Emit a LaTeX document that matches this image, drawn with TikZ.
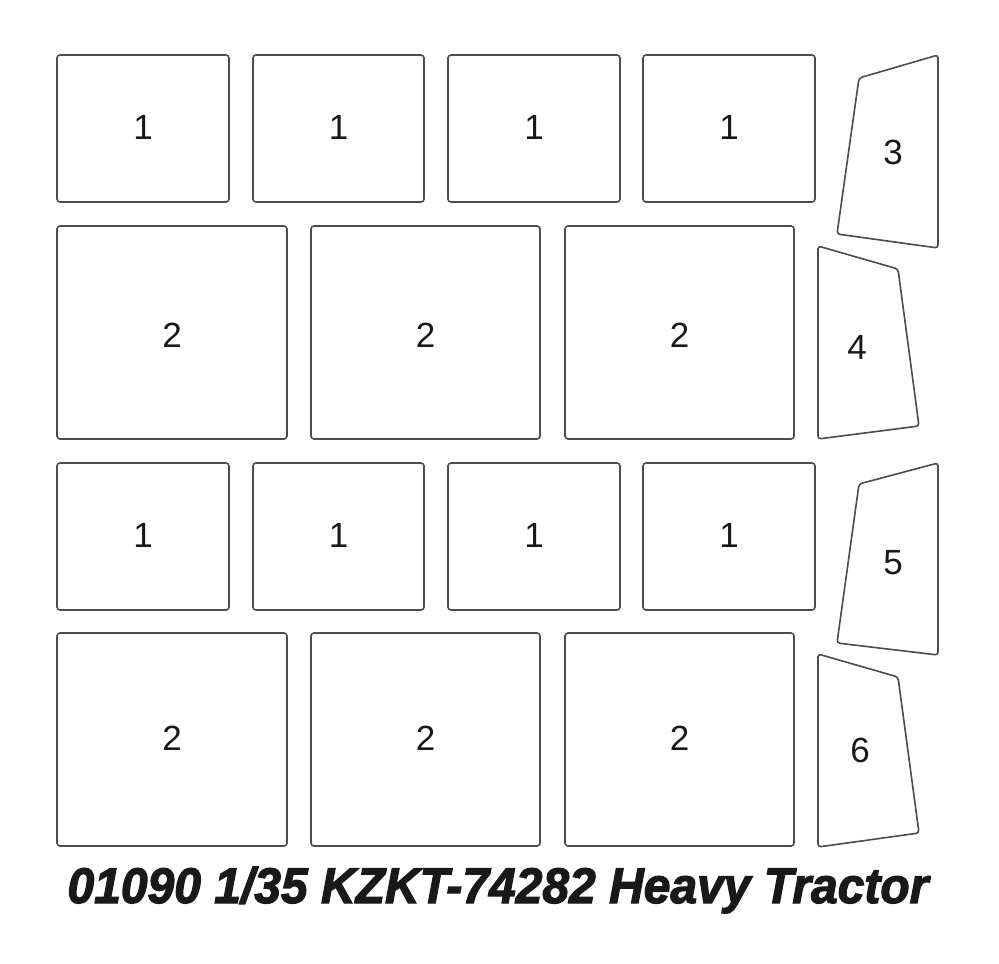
\documentclass[tikz,border=0pt]{standalone}
\usepackage{fontspec}
\setmainfont{Liberation Sans}
\newfontfamily\titlefont[FakeBold=2.5]{Liberation Sans}
\begin{document}
\begin{tikzpicture}[x=1pt,y=-1pt,
  part/.style={draw=black!70,line width=1.6pt,rounded corners=3pt},
  lbl/.style={font=\fontsize{35}{35}\selectfont,text=black!90,inner sep=0pt}]
\useasboundingbox (0,0) rectangle (999,964);
% row 1
\foreach \xa/\xb [count=\i] in {57/229,253/424,448/620,643/815}{
  \draw[part] (\xa,55) rectangle (\xb,202);
  \node[lbl] (ra\i) at ({(\xa+\xb)/2},127) {1};
}
% row 2
\foreach \xa/\xb [count=\i] in {57/287,311/540,565/794}{
  \draw[part] (\xa,226) rectangle (\xb,439);
  \node[lbl] (rb\i) at ({(\xa+\xb)/2},335) {2};
}
% row 3
\foreach \xa/\xb [count=\i] in {57/229,253/424,448/620,643/815}{
  \draw[part] (\xa,463) rectangle (\xb,610);
  \node[lbl] (rc\i) at ({(\xa+\xb)/2},535) {1};
}
% row 4
\foreach \xa/\xb [count=\i] in {57/287,311/540,565/794}{
  \draw[part] (\xa,633) rectangle (\xb,846);
  \node[lbl] (rd\i) at ({(\xa+\xb)/2},738) {2};
}
% trapezoids
\draw[part] (859,78) -- (938,55) -- (938,248) -- (837,234) -- cycle;
\node[lbl] (t3) at (893,152) {3};
\draw[part] (818,246) -- (898,269) -- (919,426) -- (818,439) -- cycle;
\node[lbl] (t4) at (857,347) {4};
\draw[part] (859,484) -- (938,463) -- (938,655) -- (837,643) -- cycle;
\node[lbl] (t5) at (893,563) {5};
\draw[part] (818,654) -- (898,677) -- (919,833) -- (818,847) -- cycle;
\node[lbl] (t6) at (860,750) {6};
% title
\node[inner sep=0pt,anchor=base,text=black!90,xscale=0.96] (title) at (498,903)
  {\titlefont\bfseries\itshape\fontsize{50}{50}\selectfont 01090 1/35 KZKT-74282 Heavy Tractor};
\end{tikzpicture}
\end{document}
